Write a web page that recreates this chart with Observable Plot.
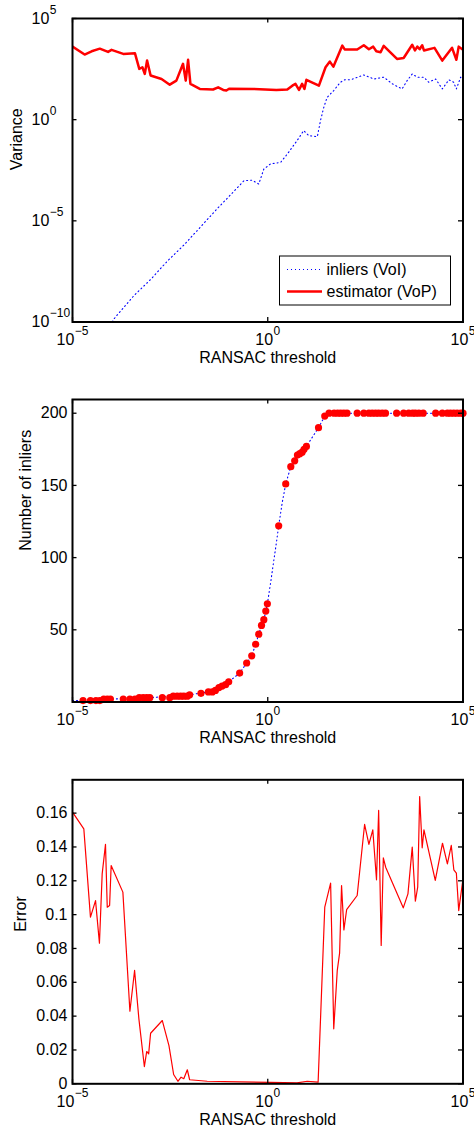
<!DOCTYPE html>
<html><head><meta charset="utf-8">
<script src="https://cdn.jsdelivr.net/npm/d3@7"></script>
<script src="https://cdn.jsdelivr.net/npm/@observablehq/plot@0.6"></script>
<style>
body{margin:0;background:#fff;}
#c{width:474px;}
svg{display:block;overflow:visible}
</style></head><body><div id="c"></div>
<script>
// ---------- DATA (thresholds and variances given as log10 exponents) ----------
const vopThrExp = [-5.0,-4.69,-4.51,-4.30,-4.09,-4.00,-3.70,-3.40,-3.29,-3.21,-3.15,-3.09,-3.00,-2.72,-2.51,-2.34,-2.17,-2.10,-2.04,-1.98,-1.74,-1.40,-1.27,-1.14,-1.06,-0.99,-0.37,0.22,0.50,0.63,0.71,0.80,0.88,0.94,0.99,1.31,1.48,1.59,1.68,1.91,1.97,2.29,2.46,2.59,2.70,2.78,2.89,2.97,3.31,3.48,3.70,3.77,3.83,3.89,3.955,4.00,4.27,4.47,4.72,4.83,4.89,5.0];
const vopVarExp = [3.61,3.22,3.38,3.51,3.35,3.45,3.25,3.28,2.51,2.59,2.26,2.92,2.18,2.01,1.73,1.93,2.76,1.93,2.96,1.77,1.52,1.49,1.60,1.47,1.44,1.53,1.52,1.47,1.49,1.68,1.77,1.47,1.77,1.52,1.97,1.68,2.59,2.87,2.62,3.66,3.47,3.47,3.68,3.48,3.61,3.38,3.33,3.65,3.0,3.05,3.70,3.42,3.61,3.48,3.68,3.42,3.55,2.92,3.55,2.96,3.61,3.45];

const voiThrExp = [-3.98,-3.94,-3.43,-3.00,-2.575,-2.15,-1.72,-1.295,-0.87,-0.61,-0.40,-0.23,-0.10,0.07,0.33,0.50,0.75,0.92,1.05,1.27,1.35,1.435,1.52,1.69,1.86,1.97,2.12,2.46,2.72,2.97,3.19,3.44,3.57,3.70,3.83,4.00,4.12,4.30,4.47,4.64,4.76,4.83,4.94,5.0];
const voiVarExp = [-10.0,-9.85,-8.7,-7.9,-7.0,-6.2,-5.3,-4.4,-3.55,-3.02,-2.99,-3.18,-2.44,-2.19,-2.11,-1.70,-1.04,-0.54,-0.79,-0.84,-0.05,0.61,1.10,1.44,1.85,1.97,1.97,2.21,2.01,2.1,1.77,1.52,1.93,2.26,2.1,2.1,1.85,2.01,1.52,1.97,1.85,1.52,2.1,1.93];

const inlThrExp = [-4.73,-4.54,-4.40,-4.30,-4.20,-4.11,-4.03,-3.70,-3.53,-3.40,-3.29,-3.19,-3.10,-3.02,-2.70,-2.51,-2.42,-2.32,-2.23,-2.15,-2.06,-2.00,-1.71,-1.52,-1.42,-1.34,-1.25,-1.17,-1.08,-1.00,-0.72,-0.54,-0.41,-0.31,-0.23,-0.16,-0.10,-0.05,-0.01,0.28,0.46,0.59,0.69,0.76,0.82,0.88,0.93,0.99,1.30,1.46,1.57,1.70,1.79,1.87,1.95,2.03,2.29,2.46,2.59,2.675,2.76,2.84,2.93,3.015,3.30,3.48,3.61,3.71,3.78,3.87,3.98,4.30,4.47,4.60,4.68,4.765,4.85,4.94,5.0];
const inlCount = [1,1,1,1,2,2,2,2,2,2,3,3,3,3,3,3,4,4,4,4,4,5,6,7,7,8,10,11,12,14,20,27,32,40,47,53,57,63,68,122,151,163,167,171,172,173,175,177,190,198,200,200,200,200,200,200,200,200,200,200,200,200,200,200,200,200,200,200,200,200,200,200,200,200,200,200,200,200,200];

const curveThrExp = [-5.0,-4.73,-4.03,-3.02,-2.51,-2.00,-1.52,-1.25,-1.00,-0.72,-0.54,-0.41,-0.31,-0.23,-0.16,-0.10,-0.05,-0.01,0.07,0.155,0.22,0.28,0.37,0.46,0.59,0.69,0.76,0.88,0.99,1.30,1.46,1.57,2.03,3.0,4.0,5.0];
const curveCount = [1,1,2,3,4,5,7,10,14,20,27,32,40,47,53,57,63,68,82,98,110,122,138,151,163,167,171,173,177,190,198,200,200,200,200,200];

const errThrExp = [-5.0,-4.71,-4.54,-4.41,-4.31,-4.24,-4.155,-4.11,-4.05,-4.01,-3.71,-3.53,-3.41,-3.30,-3.16,-3.10,-3.05,-3.00,-2.70,-2.53,-2.41,-2.30,-2.22,-2.15,-2.06,-2.00,-1.55,0.07,0.75,1.01,1.29,1.46,1.61,1.69,1.78,1.84,1.89,1.95,2.02,2.29,2.48,2.59,2.69,2.785,2.84,2.905,2.96,3.02,3.47,3.59,3.70,3.78,3.84,3.89,3.955,4.00,4.29,4.475,4.60,4.70,4.765,4.83,4.89,5.0];
const errValue = [0.1606,0.1507,0.0985,0.1083,0.0831,0.1241,0.1415,0.1044,0.1054,0.129,0.1133,0.0429,0.067,0.0384,0.0102,0.0191,0.0177,0.0299,0.0374,0.0226,0.0055,0.0015,0.0039,0.003,0.0083,0.0024,0.0015,0.0008,0.0006,0.0015,0.001,0.1044,0.1186,0.0325,0.067,0.0772,0.1172,0.091,0.1029,0.1113,0.1533,0.1415,0.1501,0.1206,0.1616,0.0818,0.1336,0.128,0.104,0.1123,0.1399,0.1079,0.1162,0.1698,0.1395,0.1501,0.1202,0.1422,0.13,0.1409,0.1265,0.1245,0.1024,0.1212];

const xTickExp = [-5, 0, 5];
const varTickExp = [-10, -5, 0, 5];
const inlTicks = [50, 100, 150, 200];
const errTicks = [0, 0.02, 0.04, 0.06, 0.08, 0.1, 0.12, 0.14, 0.16];
const xLabel = "RANSAC threshold";
const legendLabels = ["inliers (VoI)", "estimator (VoP)"];

// ---------- tables ----------
const vop = vopThrExp.map((e, i) => ({x: 10 ** e, y: 10 ** vopVarExp[i]}));
const voi = voiThrExp.map((e, i) => ({x: 10 ** e, y: 10 ** voiVarExp[i]}));
const inl = inlThrExp.map((e, i) => ({x: 10 ** e, y: inlCount[i]}));
const curve = curveThrExp.map((e, i) => ({x: 10 ** e, y: curveCount[i]}));
const err = errThrExp.map((e, i) => ({x: 10 ** e, y: errValue[i]}));
const xTicks = xTickExp.map(e => 10 ** e);
const varTicks = varTickExp.map(e => 10 ** e);

const W = 474, ML = 72, MR = 11.5, FW = W - ML - MR;
const FONT = "'Liberation Sans', Arial, Helvetica, sans-serif";
const style = {fontFamily: FONT, fontSize: "16px", background: "white", overflow: "visible", color: "black"};
const DOTTED = "1,3";

function decor(fh, yT, yAccessor) {
  return [
    Plot.tickY(yT, {y: yAccessor, insetRight: FW - 4.5, stroke: "black", strokeWidth: 1.3}),
    Plot.tickY(yT, {y: yAccessor, insetLeft: FW - 4.5, stroke: "black", strokeWidth: 1.3}),
    Plot.tickX(xTicks, {x: d => d, insetTop: fh - 4.5, stroke: "black", strokeWidth: 1.3}),
    Plot.tickX(xTicks, {x: d => d, insetBottom: fh - 4.5, stroke: "black", strokeWidth: 1.3}),
    Plot.frame({stroke: "black", strokeWidth: 2}),
    Plot.text(xTickExp, {x: d => 10 ** d, frameAnchor: "bottom", lineAnchor: "middle", dy: 18, fontSize: 16, textAnchor: "middle", text: d => "10^" + d}),
    Plot.text([xLabel], {frameAnchor: "bottom", lineAnchor: "middle", dy: 36, fontSize: 16, text: d => d})
  ];
}

function supers(svg) {
  d3.select(svg).selectAll("text").each(function() {
    const t = this.textContent;
    const m = /^10\^(.+)$/.exec(t);
    if (!m) return;
    this.textContent = "";
    const s = d3.select(this);
    s.append("tspan").text("10");
    s.append("tspan").attr("dy", -10).attr("dx", 0.5).style("font-size", "12px").text(m[1].replace("-", "\u2212"));
  });
}

const c = document.getElementById("c");

// ---------- Panel 1 ----------
const H1 = 370, MT1 = 18, MB1 = 48.5, FH1 = H1 - MT1 - MB1;
const p1 = Plot.plot({
  width: W, height: H1, marginTop: MT1, marginBottom: MB1, marginLeft: ML, marginRight: MR, style,
  x: {type: "log", domain: [1e-5, 1e5], axis: null},
  y: {type: "log", domain: [1e-10, 1e5], axis: null},
  marks: [
    Plot.line(voi, {x: "x", y: "y", stroke: "blue", strokeWidth: 1.1, strokeDasharray: DOTTED, clip: true}),
    Plot.line(vop, {x: "x", y: "y", stroke: "red", strokeWidth: 2.5, clip: true}),
    ...decor(FH1, varTicks, d => d),
    Plot.text(varTickExp, {y: d => 10 ** d, frameAnchor: "left", lineAnchor: "middle", dx: -41, textAnchor: "start", fontSize: 16, text: d => "10^" + d}),
    Plot.text(["Variance"], {frameAnchor: "left", dx: -56, rotate: -90, fontSize: 16, text: d => d})
  ]
});
supers(p1);
{
  const g = d3.select(p1).append("g").attr("font-family", FONT).attr("font-size", 16).attr("text-anchor", "start");
  g.append("rect").attr("x", 279.5).attr("y", 256).attr("width", 171).attr("height", 49)
    .attr("fill", "white").attr("stroke", "black").attr("stroke-width", 1);
  g.append("line").attr("x1", 287).attr("x2", 320).attr("y1", 269.5).attr("y2", 269.5)
    .attr("stroke", "blue").attr("stroke-width", 1.1).attr("stroke-dasharray", DOTTED);
  g.append("text").attr("x", 326.5).attr("y", 275).attr("fill", "black").attr("text-anchor", "start").text(legendLabels[0]);
  g.append("line").attr("x1", 287).attr("x2", 322).attr("y1", 291.5).attr("y2", 291.5)
    .attr("stroke", "red").attr("stroke-width", 2.5);
  g.append("text").attr("x", 326.5).attr("y", 297).attr("fill", "black").attr("text-anchor", "start").text(legendLabels[1]);
}
c.appendChild(p1);

// ---------- Panel 2 ----------
const H2 = 385, MT2 = 29, MB2 = 53.5, FH2 = H2 - MT2 - MB2;
const p2 = Plot.plot({
  width: W, height: H2, marginTop: MT2, marginBottom: MB2, marginLeft: ML, marginRight: MR, style,
  x: {type: "log", domain: [1e-5, 1e5], axis: null},
  y: {domain: [0, 209.5], axis: null},
  marks: [
    Plot.line(curve, {x: "x", y: "y", stroke: "blue", strokeWidth: 1.1, strokeDasharray: DOTTED, clip: true}),
    Plot.dot(inl, {x: "x", y: "y", r: 3.6, fill: "red", stroke: "none"}),
    ...decor(FH2, inlTicks, d => d),
    Plot.text(inlTicks, {y: d => d, frameAnchor: "left", lineAnchor: "middle", dx: -5, textAnchor: "end", fontSize: 16, text: d => String(d)}),
    Plot.text(["Number of inliers"], {frameAnchor: "left", dx: -47, rotate: -90, fontSize: 16, text: d => d})
  ]
});
supers(p2);
c.appendChild(p2);

// ---------- Panel 3 ----------
const H3 = 377, MT3 = 24.3, MB3 = 48.7, FH3 = H3 - MT3 - MB3;
const p3 = Plot.plot({
  width: W, height: H3, marginTop: MT3, marginBottom: MB3, marginLeft: ML, marginRight: MR, style,
  x: {type: "log", domain: [1e-5, 1e5], axis: null},
  y: {domain: [0, 0.1797], axis: null},
  marks: [
    Plot.line(err, {x: "x", y: "y", stroke: "red", strokeWidth: 1.2, clip: true}),
    ...decor(FH3, errTicks, d => d),
    Plot.text(errTicks, {y: d => d, frameAnchor: "left", lineAnchor: "middle", dx: -5, textAnchor: "end", fontSize: 16, text: d => String(d)}),
    Plot.text(["Error"], {frameAnchor: "left", dx: -52, rotate: -90, fontSize: 16, text: d => d})
  ]
});
supers(p3);
c.appendChild(p3);
</script></body></html>
